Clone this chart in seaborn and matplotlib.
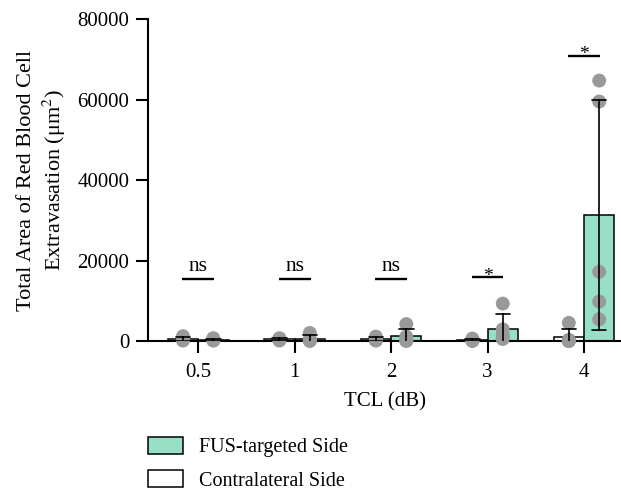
import numpy as np
import pandas as pd
import matplotlib
matplotlib.use("Agg")
import matplotlib.pyplot as plt
import seaborn as sns

# ---- data ----
tcl_levels = ["0.5", "1", "2", "3", "4"]
contra_vals = [
    [1200, 600, 300, 100],
    [700, 500, 300, 100],
    [1100, 400, 200, 100],
    [600, 300, 100, 0],
    [4500, 300, 0, 0, 0],
]
fus_vals = [
    [700, 400, 200, 100],
    [2000, 500, 200, 100, 0],
    [4200, 1100, 300, 100, 0],
    [9300, 2900, 1500, 900, 500],
    [64700, 59500, 17200, 9800, 5400],
]
sig_labels = ["ns", "ns", "ns", "*", "*"]
sig_heights = [15300, 15300, 15300, 15800, 70900]
y_ticks = [0, 20000, 40000, 60000, 80000]

side_contra = "Contralateral Side"
side_fus = "FUS-targeted Side"

rows = []
for lvl, c, f in zip(tcl_levels, contra_vals, fus_vals):
    for v in c:
        rows.append((lvl, side_contra, v))
    for v in f:
        rows.append((lvl, side_fus, v))
df = pd.DataFrame(rows, columns=["TCL", "side", "value"])

# ---- style ----
sns.set_style("ticks")
plt.rcParams["font.family"] = ["Liberation Serif", "DejaVu Serif"]
plt.rcParams["mathtext.fontset"] = "stix"
plt.rcParams["text.color"] = "black"
plt.rcParams["axes.labelcolor"] = "black"
plt.rcParams["xtick.color"] = "black"
plt.rcParams["ytick.color"] = "black"
plt.rcParams["axes.edgecolor"] = "black"

fig = plt.figure(figsize=(6.21, 4.92), dpi=100)
ax = fig.add_axes([148 / 621, 1 - 341 / 492, 1 - 148 / 621, (341 - 19) / 492])

mint = "#97dfc5"
hue_order = [side_contra, side_fus]
bar_width = 0.63

sns.barplot(data=df, x="TCL", y="value", hue="side", order=tcl_levels,
            hue_order=hue_order, palette={side_contra: "white", side_fus: mint},
            errorbar="sd", capsize=0.3, width=bar_width,
            err_kws={"color": "black", "linewidth": 1.2},
            edgecolor="black", linewidth=1.1, saturation=1, legend=True, ax=ax)

n_before = len(ax.collections)
sns.stripplot(data=df, x="TCL", y="value", hue="side", order=tcl_levels,
              hue_order=hue_order, palette={side_contra: "#999999", side_fus: "#999999"},
              dodge=True, jitter=False, size=10, linewidth=0, legend=False, ax=ax)

# align dodged dots with the bar centres (stripplot dodges with width 0.8)
for coll in ax.collections[n_before:]:
    off = coll.get_offsets()
    if len(off):
        xs = np.asarray(off[:, 0], dtype=float)
        cen = np.round(xs)
        off[:, 0] = cen + (xs - cen) * (bar_width / 0.8)
        coll.set_offsets(off)
    coll.set_clip_on(False)
    coll.set_zorder(3)

for ln in ax.lines:
    ln.set_zorder(4)

# significance marks
for i, (lab, h) in enumerate(zip(sig_labels, sig_heights)):
    ax.hlines(h, i - 0.165, i + 0.165, color="black", linewidth=1.7, zorder=5)
    if lab == "*":
        ax.text(i, h - 900, lab, ha="center", va="baseline", fontsize=14)
    else:
        ax.text(i, h + 900, lab, ha="center", va="bottom", fontsize=15.5)

ax.set_ylim(0, 80000)
ax.set_xlim(-0.52, (621 - 198) / 96.5)
ax.set_yticks(y_ticks)
ax.set_yticklabels([str(t) for t in y_ticks])
sns.despine(ax=ax)
for s in ["left", "bottom"]:
    ax.spines[s].set_linewidth(1.5)
ax.tick_params(axis="both", length=8.5, width=1.5, labelsize=15, color="black")
ax.tick_params(axis="y", pad=5)
ax.tick_params(axis="x", pad=7)
ax.set_xlabel("TCL (dB)", fontsize=15, labelpad=8)
ax.set_ylabel("Total Area of Red Blood Cell\nExtravasation (μm$^2$)", fontsize=16,
              labelpad=7, linespacing=1.2)

handles, labels = ax.get_legend_handles_labels()
ax.get_legend().remove()
hmap = dict(zip(labels, handles))
fig.legend([hmap[side_fus], hmap[side_contra]], [side_fus, side_contra],
           loc="upper left", bbox_to_anchor=(148 / 621, 1 - 437 / 492),
           frameon=False, fontsize=14.5, handlelength=1.75, handleheight=0.9,
           labelspacing=0.65, handletextpad=0.8, borderpad=0, borderaxespad=0)

fig.savefig("out.png", dpi=100)
